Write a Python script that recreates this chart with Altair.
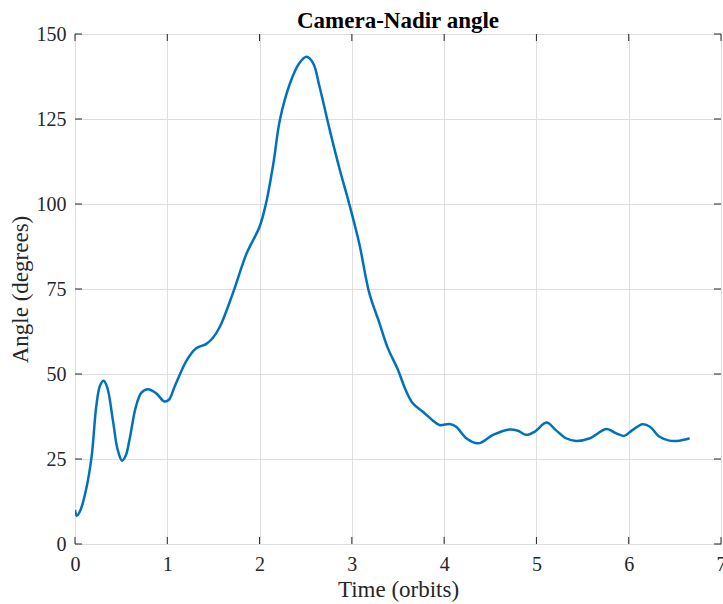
import altair as alt
import pandas as pd

# Camera-Nadir angle over the mission timeline
time_orbits = [
    0.00, 0.02, 0.06, 0.12, 0.18, 0.23, 0.27, 0.31, 0.35, 0.41, 0.46, 0.51,
    0.55, 0.59, 0.66, 0.72, 0.79, 0.88, 0.97, 1.02, 1.08, 1.21, 1.31, 1.42,
    1.49, 1.57, 1.71, 1.86, 2.00, 2.07, 2.15, 2.22, 2.33, 2.43, 2.51, 2.58,
    2.65, 2.76, 2.87, 2.97, 3.08, 3.19, 3.30, 3.39, 3.50, 3.58, 3.66, 3.77,
    3.87, 3.95, 4.06, 4.13, 4.24, 4.37, 4.53, 4.71, 4.80, 4.89, 4.98, 5.11,
    5.21, 5.32, 5.43, 5.58, 5.76, 5.86, 5.95, 6.04, 6.15, 6.23, 6.33, 6.44,
    6.55, 6.66,
]
angle_deg = [
    10.0, 8.3, 10.0, 16.0, 25.7, 40.4, 46.5, 48.0, 46.0, 36.5, 28.0, 24.5,
    26.0, 30.6, 40.4, 44.5, 45.5, 44.3, 41.9, 42.5, 46.3, 54.0, 57.5, 58.8,
    60.5, 63.9, 73.7, 85.5, 93.3, 100.2, 112.0, 124.7, 135.5, 141.4, 143.3, 141.4,
    134.5, 121.8, 110.0, 100.2, 88.4, 73.7, 64.9, 57.6, 51.2, 45.5, 41.4, 38.9,
    36.5, 35.0, 35.3, 34.5, 31.1, 29.6, 32.1, 33.7, 33.3, 32.1, 33.0, 35.7,
    33.5, 31.1, 30.3, 31.1, 33.8, 32.6, 31.8, 33.5, 35.2, 34.5, 31.6, 30.4,
    30.4, 31.1,
]

x_ticks = [0, 1, 2, 3, 4, 5, 6, 7]
y_ticks = [0, 25, 50, 75, 100, 125, 150]

W, H = 646, 510
TICK = 7
AXIS_COLOR = "#262626"
LABEL_FONT = "Liberation Serif"

df = pd.DataFrame({"time": time_orbits, "angle": angle_deg})
xt = pd.DataFrame({"time": x_ticks})
yt = pd.DataFrame({"angle": y_ticks})

xscale = alt.Scale(domain=[0, 7], nice=False, zero=False)
yscale = alt.Scale(domain=[0, 150], nice=False, zero=False)

line = alt.Chart(df).mark_line(
    color="#0072BD", strokeWidth=2.5, interpolate="catmull-rom", clip=True
).encode(
    x=alt.X(
        "time:Q",
        scale=xscale,
        axis=alt.Axis(
            values=x_ticks,
            format="d",
            title="Time (orbits)",
            grid=True,
            ticks=False,
            domain=False,
            labelFlush=False,
            labelPadding=10,
            titlePadding=4,
        ),
    ),
    y=alt.Y(
        "angle:Q",
        scale=yscale,
        axis=alt.Axis(
            values=y_ticks,
            format="d",
            title="Angle (degrees)",
            grid=True,
            ticks=False,
            domain=False,
            labelFlush=False,
            labelPadding=9,
            titlePadding=4,
        ),
    ),
)

# inward ticks on all four sides of the box
tick_style = dict(color=AXIS_COLOR, strokeWidth=1)
x_bottom = alt.Chart(xt).mark_rule(**tick_style).encode(
    x=alt.X("time:Q", scale=xscale), y=alt.value(H), y2=alt.value(H - TICK)
)
x_top = alt.Chart(xt).mark_rule(**tick_style).encode(
    x=alt.X("time:Q", scale=xscale), y=alt.value(0), y2=alt.value(TICK)
)
y_left = alt.Chart(yt).mark_rule(**tick_style).encode(
    y=alt.Y("angle:Q", scale=yscale), x=alt.value(0), x2=alt.value(TICK)
)
y_right = alt.Chart(yt).mark_rule(**tick_style).encode(
    y=alt.Y("angle:Q", scale=yscale), x=alt.value(W), x2=alt.value(W - TICK)
)

# chart heading, centred over the plot box
heading = alt.Chart(pd.DataFrame({"label": ["Camera-Nadir angle"]})).mark_text(
    font=LABEL_FONT,
    fontSize=23,
    fontWeight="bold",
    color="#000000",
    align="center",
    baseline="alphabetic",
    clip=False,
).encode(x=alt.value(W / 2), y=alt.value(-6), text="label:N")

chart = (
    alt.layer(line, x_bottom, x_top, y_left, y_right, heading)
    .properties(
        width=W,
        height=H,
        background="white",
        autosize=alt.AutoSizeParams(type="none"),
        padding={"left": 75, "top": 34, "right": 2, "bottom": 60},
    )
    .configure_view(stroke=AXIS_COLOR, strokeWidth=1)
    .configure_axis(
        labelFont=LABEL_FONT,
        labelFontSize=20,
        labelColor=AXIS_COLOR,
        titleFont=LABEL_FONT,
        titleFontSize=23,
        titleFontWeight="normal",
        titleColor=AXIS_COLOR,
        gridColor="#dedede",
        gridWidth=1,
    )
)

chart.save("out.html", embed_options={"renderer": "svg", "actions": False})
